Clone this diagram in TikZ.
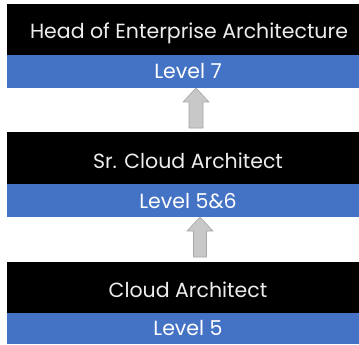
\documentclass[tikz,border=0pt]{standalone}
\usepackage{fontspec}
\setmainfont{Poppins}
\definecolor{lvlblue}{HTML}{4472C4}
\definecolor{arrfill}{HTML}{C8C8C8}
\definecolor{arredge}{HTML}{A6A6A6}
\definecolor{titletxt}{HTML}{EDEDED}
\begin{document}
\begin{tikzpicture}[x=1pt,y=-1pt,
  titlebox/.style={fill=black,draw=none,minimum width=352pt,inner sep=0pt,anchor=north west},
  levelbox/.style={fill=lvlblue,draw=none,minimum width=352pt,inner sep=0pt,anchor=north west},
  titletext/.style={text=titletxt,font=\fontsize{20.5}{24}\selectfont,inner sep=0pt,anchor=base},
  leveltext/.style={text=white,font=\fontsize{20.5}{24}\selectfont,inner sep=0pt,anchor=base},
  uparrow/.style={fill=arrfill,draw=arredge,line width=0.6pt,line join=miter}]
\useasboundingbox (0,0) rectangle (359,345);
% top
\node[titlebox,minimum height=51pt] (t1) at (7,4) {};
\node[levelbox,minimum height=33pt] (l1) at (7,55) {};
\node[titletext] (t1txt) at (189,39) {Head of Enterprise Architecture};
\node[leveltext] (l1txt) at (188,79) {Level 7};
% middle
\node[titlebox,minimum height=52pt] (t2) at (7,132) {};
\node[levelbox,minimum height=33pt] (l2) at (7,184) {};
\node[titletext] (t2txt) at (188,168) {Sr. Cloud Architect};
\node[leveltext] (l2txt) at (188,208) {Level 5\&6};
% bottom
\node[titlebox,minimum height=51pt] (t3) at (7,262) {};
\node[levelbox,minimum height=31pt] (l3) at (7,313) {};
\node[titletext] (t3txt) at (188,297) {Cloud Architect};
\node[leveltext] (l3txt) at (188,335) {Level 5};
% arrows
\draw[uparrow] (196,88) -- (209,102) -- (203,102) -- (203,128) -- (189,128) -- (189,102) -- (183,102) -- cycle;
\draw[uparrow] (200,217) -- (213,231) -- (206.5,231) -- (206.5,257) -- (193.5,257) -- (193.5,231) -- (187,231) -- cycle;
\end{tikzpicture}
\end{document}
